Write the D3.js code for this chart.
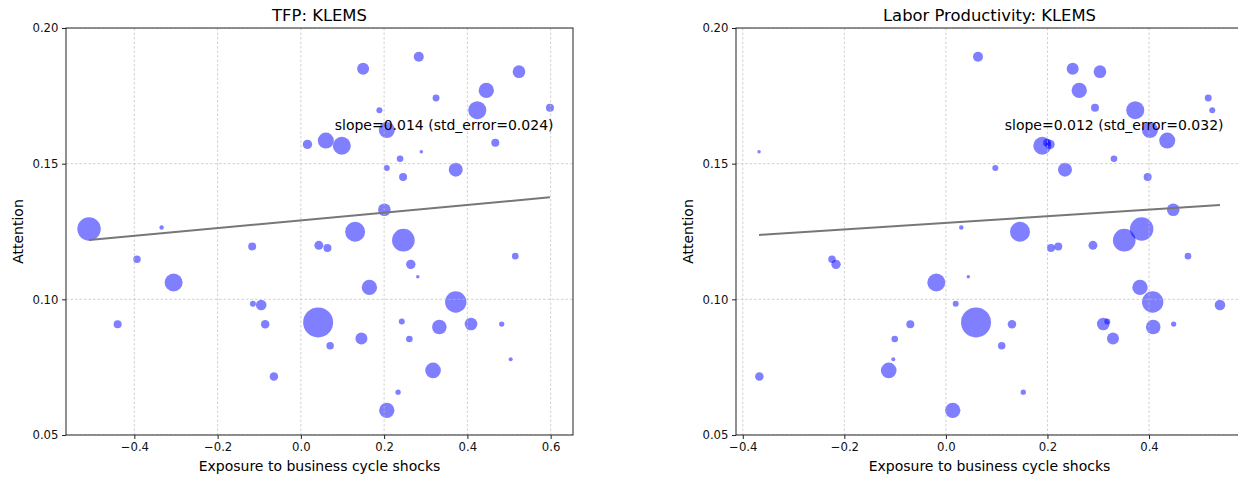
<!DOCTYPE html>
<html>
<head>
<meta charset="utf-8">
<script src="https://cdn.jsdelivr.net/npm/d3@7"></script>
<style>
  body { margin: 0; background: #fff; }
  svg { display: block; font-family: "DejaVu Sans", sans-serif; }
</style>
</head>
<body>
<svg id="chart" width="1238" height="477"></svg>
<script>
// Attention per industry (same in both panels)
const attention = [
  0.1259, 0.1265, 0.1148, 0.1062, 0.0908, 0.1195, 0.0984, 0.0979, 0.0908, 0.0716,
  0.0915, 0.1199, 0.1189, 0.1249, 0.1218, 0.1129, 0.1083, 0.1044, 0.1159, 0.0990,
  0.0918, 0.0898, 0.0909, 0.0909, 0.0856, 0.0829, 0.0854, 0.0779, 0.0738, 0.0658,
  0.0591, 0.1330, 0.1850, 0.1894, 0.1839, 0.1770, 0.1742, 0.1697, 0.1697, 0.1706,
  0.1624, 0.1585, 0.1566, 0.1571, 0.1577, 0.1544, 0.1518, 0.1484, 0.1451, 0.1478
];
// Bubble weight per industry
const weight = [
  137, 5, 14, 81, 16, 16, 9, 28, 18, 18,
  225, 20, 16, 100, 128, 22, 3, 59, 11, 114,
  9, 53, 40, 7, 36, 14, 11, 4, 61, 7,
  59, 40, 36, 25, 40, 59, 12, 9, 81, 16,
  64, 64, 81, 22, 16, 3, 11, 9, 16, 49
];
// Exposure to business cycle shocks, TFP
const exposureTFP = [
  -0.5088, -0.3345, -0.3936, -0.3057, -0.4401, -0.1169, -0.1152, -0.0953, -0.0857, -0.0648,
  0.0415, 0.0432, 0.0638, 0.1303, 0.2462, 0.2640, 0.2808, 0.1646, 0.5150, 0.3720,
  0.2424, 0.3326, 0.4087, 0.4824, 0.1454, 0.0703, 0.2606, 0.5040, 0.3175, 0.2335,
  0.2064, 0.2006, 0.1495, 0.2832, 0.5239, 0.4454, 0.3247, 0.1886, 0.4238, 0.5983,
  0.2064, 0.0600, 0.0984, 0.0158, 0.4670, 0.2894, 0.2383, 0.2064, 0.2455, 0.3720
];
// Exposure to business cycle shocks, labor productivity
const exposureLP = [
  0.3855, 0.0303, -0.2243, -0.0189, -0.0701, 0.2213, 0.0193, 0.5397, 0.1301, -0.3674,
  0.0593, 0.2896, 0.2069, 0.1459, 0.3512, -0.2164, 0.0441, 0.3822, 0.4767, 0.4072,
  0.3178, 0.4083, 0.3099, 0.4485, 0.3290, 0.1099, -0.1008, -0.1036, -0.1126, 0.1524,
  0.0134, 0.4477, 0.2497, 0.0632, 0.3034, 0.2626, 0.5166, 0.5245, 0.3729, 0.2936,
  0.4018, 0.4359, 0.1898, 0.2050, 0.1991, -0.3680, 0.3310, 0.0973, 0.3973, 0.2345
];

const titles = ["TFP: KLEMS", "Labor Productivity: KLEMS"];
const slopes = [0.0142, 0.0121];
const intercepts = [0.1291, 0.1282];
const slopeLabels = ["slope=0.014 (std_error=0.024)", "slope=0.012 (std_error=0.032)"];
const yTicks = [0.05, 0.10, 0.15, 0.20];
const xTicksTFP = [-0.4, -0.2, 0.0, 0.2, 0.4, 0.6];
const xTicksLP = [-0.4, -0.2, 0.0, 0.2, 0.4];

const svg = d3.select("#chart");
const W = 507, H = 407, TOP = 28;

function drawPanel(left, xs, xTicks, title, slope, intercept, label, id) {
  const g = svg.append("g").attr("transform", `translate(${left},${TOP})`);

  const ext = d3.extent(xs);
  const pad = (ext[1] - ext[0]) * 0.05;
  const x = d3.scaleLinear().domain([ext[0] - pad, ext[1] + pad]).range([0, W]);
  const y = d3.scaleLinear().domain([0.05, 0.20]).range([H, 0]);
  const r = d3.scaleSqrt().domain([0, 256]).range([0, 16]);

  g.append("clipPath").attr("id", "clip" + id)
    .append("rect").attr("width", W).attr("height", H);

  const plot = g.append("g").attr("clip-path", `url(#clip${id})`);

  // bubbles
  plot.selectAll("circle")
    .data(xs.map((d, i) => ({ x: d, y: attention[i], w: weight[i] })))
    .join("circle")
    .attr("cx", d => x(d.x))
    .attr("cy", d => y(d.y))
    .attr("r", d => r(d.w))
    .attr("fill", "blue")
    .attr("fill-opacity", 0.5);

  // grid
  plot.selectAll(".vgrid").data(xTicks).join("line")
    .attr("x1", d => x(d)).attr("x2", d => x(d))
    .attr("y1", 0).attr("y2", H)
    .attr("stroke", "#bdbdbd").attr("stroke-width", 0.7)
    .attr("stroke-dasharray", "2.5,2");
  plot.selectAll(".hgrid").data(yTicks).join("line")
    .attr("y1", d => y(d)).attr("y2", d => y(d))
    .attr("x1", 0).attr("x2", W)
    .attr("stroke", "#bdbdbd").attr("stroke-width", 0.7)
    .attr("stroke-dasharray", "2.5,2");

  // regression line
  plot.append("path")
    .datum(ext)
    .attr("d", d3.line().x(d => x(d)).y(d => y(intercept + slope * d)))
    .attr("stroke", "#777").attr("stroke-width", 2).attr("fill", "none");

  // axes
  const xa = g.append("g").attr("transform", `translate(0,${H})`)
    .call(d3.axisBottom(x).tickValues(xTicks).tickSize(4).tickPadding(3.5)
      .tickFormat(d3.format(".1f")));
  const ya = g.append("g")
    .call(d3.axisLeft(y).tickValues(yTicks).tickSize(4).tickPadding(3.5)
      .tickFormat(d3.format(".2f")));
  [xa, ya].forEach(a => {
    a.select(".domain").remove();
    a.selectAll("text").attr("font-size", "11.7px").attr("fill", "#111")
      .attr("font-family", "DejaVu Sans");
    a.selectAll("line").attr("stroke", "#222").attr("stroke-width", 1);
  });

  g.append("rect").attr("width", W).attr("height", H)
    .attr("fill", "none").attr("stroke", "#222").attr("stroke-width", 1);

  g.append("text").attr("x", W * 0.53).attr("y", H * 0.25)
    .attr("font-size", "14px").text(label);

  g.append("text").attr("x", W / 2).attr("y", -7)
    .attr("text-anchor", "middle").attr("font-size", "16.4px").text(title);

  g.append("text").attr("x", W / 2).attr("y", H + 36)
    .attr("text-anchor", "middle").attr("font-size", "14px")
    .text("Exposure to business cycle shocks");

  g.append("text")
    .attr("transform", `translate(-43,${H / 2}) rotate(-90)`)
    .attr("text-anchor", "middle").attr("font-size", "14px")
    .text("Attention");
}

drawPanel(66, exposureTFP, xTicksTFP, titles[0], slopes[0], intercepts[0], slopeLabels[0], 0);
drawPanel(736, exposureLP, xTicksLP, titles[1], slopes[1], intercepts[1], slopeLabels[1], 1);
</script>
</body>
</html>
